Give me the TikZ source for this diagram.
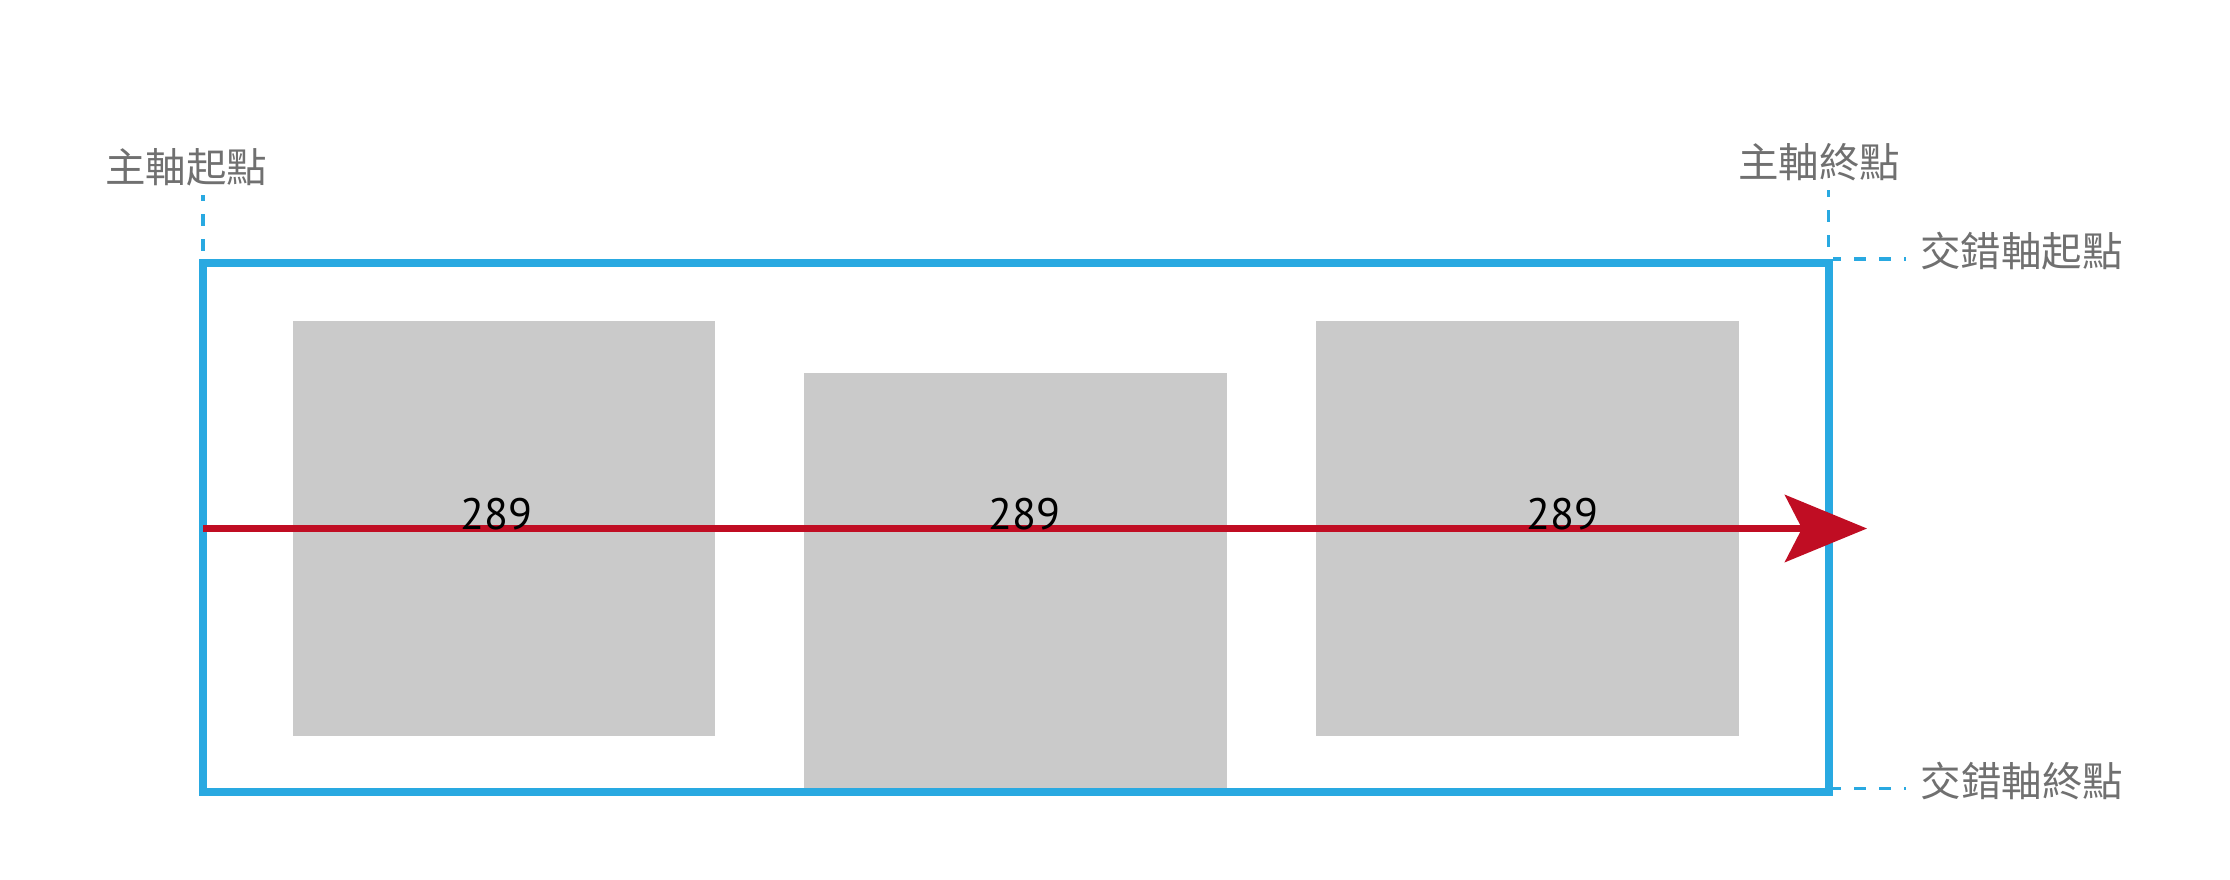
\documentclass[tikz,border=0pt]{standalone}
\usepackage{fontspec}
\setmainfont{PT Sans}
\newfontfamily\cjk{Noto Sans CJK TC}
\usetikzlibrary{arrows.meta}
\definecolor{bblue}{HTML}{29A9E1}
\definecolor{rred}{HTML}{C00D23}
\definecolor{bgray}{HTML}{CACACA}
\definecolor{tgray}{HTML}{707070}
\tikzset{
  item/.style={fill=bgray,draw=none},
  lbl/.style={inner sep=0pt,text=tgray,font=\cjk\fontsize{40.5pt}{44pt}\selectfont},
  num/.style={inner sep=0pt,anchor=base,text=black,font=\fontsize{44pt}{48pt}\selectfont},
  guide/.style={draw=bblue,line width=3.5pt,dash pattern=on 12pt off 13pt},
  frame/.style={draw=bblue,line width=8pt,miter limit=10},
  mainaxis/.style={draw=rred,line width=7pt,-{Stealth[length=82pt,width=67pt,inset=17pt]}}
}
\begin{document}
\begin{tikzpicture}[x=1pt,y=-1pt]
\useasboundingbox (0,0) rectangle (2230,880);
% gray items
\path[item] (293,321) rectangle (715,736);
\path[item] (804,373) rectangle (1227,788);
\path[item] (1316,321) rectangle (1739,736);
% frame corners
\coordinate (tl) at (203,263);
\coordinate (tr) at (1828.5,263);
\coordinate (br) at (1828.5,791.5);
\coordinate (bl) at (203,791.5);
\draw[frame] (tl) -- (tr) -- (br) -- (bl) -- cycle;
% labels
\node[lbl] (mstart) at (186,167.5) {主軸起點};
\node[lbl] (mend) at (1819,162.5) {主軸終點};
\node[lbl] (cstart) at (2021.5,251.5) {交錯軸起點};
\node[lbl] (cend) at (2022,781.5) {交錯軸終點};
% guides
\coordinate (g1a) at (203,195);
\coordinate (g1b) at (203,259);
\coordinate (g2a) at (1828.5,190);
\coordinate (g2b) at (1828.5,258);
\coordinate (g3a) at (1833,259);
\coordinate (g3b) at (1906,259);
\coordinate (g4a) at (1833,788.5);
\coordinate (g4b) at (1906,788.5);
\draw[guide,dash phase=6pt] (g1a) -- (g1b);
\draw[guide,dash phase=5pt] (g2a) -- (g2b);
\draw[guide,dash phase=4pt] (g3a) -- (g3b);
\draw[guide,dash phase=4pt] (g4a) -- (g4b);
% main axis
\coordinate (axs) at (203,528.5);
\coordinate (axe) at (1867,528.5);
\draw[mainaxis] (axs) -- (axe);
% numbers
\node[num] (n1) at (496.5,529) {289};
\node[num] (n2) at (1024.5,529) {289};
\node[num] (n3) at (1562,529) {289};
\end{tikzpicture}
\end{document}
